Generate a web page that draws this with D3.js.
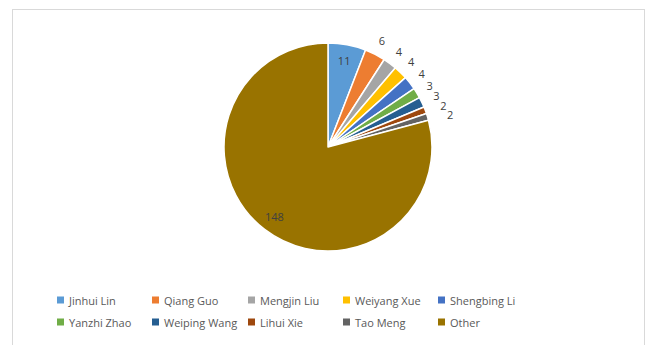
<!DOCTYPE html>
<html><head><meta charset="utf-8">
<script src="https://cdn.jsdelivr.net/npm/d3@7"></script>
<style>body{margin:0;background:#fff}svg{display:block}</style>
</head><body>
<svg id="c" width="649" height="345"></svg>
<script>
const categories = ["Jinhui Lin","Qiang Guo","Mengjin Liu","Weiyang Xue","Shengbing Li","Yanzhi Zhao","Weiping Wang","Lihui Xie","Tao Meng","Other"];
const values = [11,6,4,4,4,3,3,2,2,148];
const colors = ["#5B9BD5","#ED7D31","#A5A5A5","#FFC000","#4472C4","#70AD47","#255E91","#9E480E","#636363","#997300"];

const svg = d3.select("#c");
svg.append("rect").attr("x",12.5).attr("y",9.5).attr("width",632).attr("height",400)
  .attr("fill","#fff").attr("stroke","#d9d9d9").attr("stroke-width",1);

const cx = 328, cy = 147, r = 104;
const pie = d3.pie().sort(null).value(d=>d.v);
const data = pie(categories.map((c,i)=>({c, v:values[i], col:colors[i]})));
const arc = d3.arc().innerRadius(0).outerRadius(r);
const g = svg.append("g").attr("transform",`translate(${cx},${cy})`);
g.selectAll("path").data(data).join("path")
  .attr("d",arc).attr("fill",d=>d.data.col)
  .attr("stroke","#fff").attr("stroke-width",1.5).attr("stroke-linejoin","round");

const font = "'Open Sans', 'Liberation Sans', sans-serif";
const Rout = 119, Rin = 88, minGap = 9.5;
const labels = g.selectAll("text.lbl").data(data).join("text")
  .attr("class","lbl")
  .attr("text-anchor","middle").attr("dominant-baseline","central")
  .attr("font-family",font).attr("font-size",11).attr("fill","#404040")
  .text(d=>d.data.v);

// place labels: inside for the large slices, outside for small ones, nudged to avoid collisions
let prev = null;
labels.each(function(d){
  const a=(d.startAngle+d.endAngle)/2;
  if (d.data.v>=10) { d.lx = Rin*Math.sin(a); d.ly = -Rin*Math.cos(a); return; }
  const bb = this.getBBox();
  d.w = bb.width; d.h = bb.height;
  let x = Rout*Math.sin(a), y = -Rout*Math.cos(a);
  if (prev) {
    if (y < prev.ly + minGap) y = prev.ly + minGap;
    if (y - prev.ly < (d.h+prev.h)/2 && x - prev.lx < (d.w+prev.w)/2 + 0.5) x = prev.lx + (d.w+prev.w)/2 + 0.5;
  }
  d.lx = x; d.ly = y; prev = d;
});
labels.attr("x",d=>d.lx).attr("y",d=>d.ly);

const legend = svg.append("g");
const colX = [60,155,251,346,441];
const rowY = [300,322];
categories.forEach((c,i)=>{
  const x = colX[i%5], y = rowY[Math.floor(i/5)];
  legend.append("rect").attr("x",x-3).attr("y",y-3.5).attr("width",7).attr("height",7).attr("fill",colors[i]);
  legend.append("text").attr("x",x+9).attr("y",y).attr("dominant-baseline","central")
    .attr("font-family",font).attr("font-size",11).attr("fill","#595959").text(c);
});
</script>
</body></html>
